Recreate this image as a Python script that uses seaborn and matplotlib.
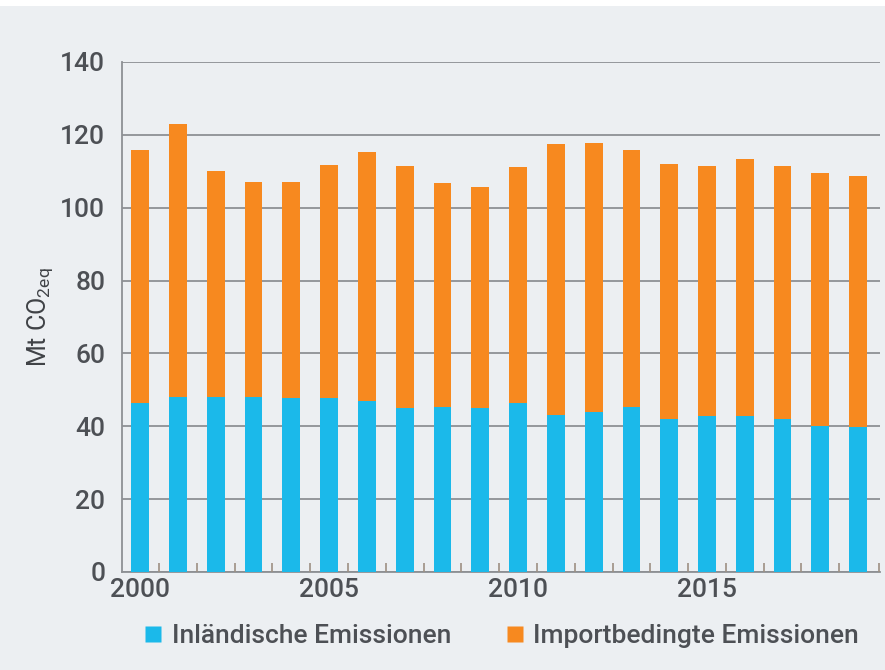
import matplotlib
matplotlib.use("Agg")
import matplotlib.pyplot as plt
from matplotlib.patches import Rectangle
from matplotlib.lines import Line2D
import seaborn as sns
import pandas as pd

# Emissions in Mt CO2-equivalent per year
years = list(range(2000, 2020))
domestic = [46.5, 48.0, 48.0, 48.0, 47.7, 47.7, 46.8, 44.9, 45.4, 45.1,
            46.3, 43.1, 44.0, 45.2, 41.9, 42.8, 42.8, 41.9, 40.0, 39.8]
imported = [69.3, 74.9, 62.1, 59.0, 59.3, 64.0, 68.6, 66.5, 61.3, 60.7,
            65.0, 74.3, 73.7, 70.5, 70.0, 68.6, 70.7, 69.6, 69.6, 68.9]
series_labels = ["Inländische Emissionen", "Importbedingte Emissionen"]
y_ticks = [0, 20, 40, 60, 80, 100, 120, 140]
x_ticks = [2000, 2005, 2010, 2015]

df = pd.DataFrame({"Jahr": years, "Inland": domestic, "Import": imported})
df["Gesamt"] = df["Inland"] + df["Import"]

BG = "#eceff2"
BLUE = "#1bb9ea"
ORANGE = "#f7891f"
GRID = "#8d9094"
TEXT = "#4d5055"

sns.set_theme(style="white")
plt.rcParams["font.family"] = ["Roboto", "DejaVu Sans"]
plt.rcParams["font.weight"] = "medium"

fig = plt.figure(figsize=(8.85, 6.7), dpi=100, facecolor=BG)
fig.patches.append(Rectangle((0, 0.991), 1, 0.009, transform=fig.transFigure,
                             facecolor="white", edgecolor="none", zorder=0))
ax = fig.add_axes([0.1379, 0.1463, 0.8565, 0.7612])
ax.set_facecolor(BG)

# stacked bars: total first, domestic share drawn over it
sns.barplot(data=df, x="Jahr", y="Gesamt", color=ORANGE, native_scale=True,
            width=0.47, saturation=1, linewidth=0, ax=ax, zorder=3)
sns.barplot(data=df, x="Jahr", y="Inland", color=BLUE, native_scale=True,
            width=0.47, saturation=1, linewidth=0, ax=ax, zorder=4)

ax.set_xlim(1999.52, 2019.58)
ax.set_ylim(0, 140)
ax.set_yticks(y_ticks)
ax.set_xticks(x_ticks)
ax.grid(axis="y", color=GRID, linewidth=1.3, zorder=1)
ax.grid(axis="x", visible=False)

# small separators between the yearly bars, standing on the baseline
separators = [y + 0.5 for y in years[:-1]] + [years[-1] + 0.55]
ax.vlines(separators, 0, 0.017, transform=ax.get_xaxis_transform(),
          colors="#9d9083", linewidth=1.2, zorder=5)

for side in ["top", "right"]:
    ax.spines[side].set_visible(False)
for side in ["left", "bottom"]:
    ax.spines[side].set_color(GRID)
    ax.spines[side].set_linewidth(1.3)
    ax.spines[side].set_zorder(2)

ax.tick_params(axis="y", left=False, length=0, pad=12, labelsize=19, labelcolor=TEXT)
ax.tick_params(axis="x", length=0, pad=4, labelsize=19, labelcolor=TEXT)

ax.set_xlabel("")
ax.set_ylabel(r"Mt CO$_{\mathregular{2eq}}$", fontsize=18, color="#3f4246",
              labelpad=4)

handles = [Line2D([], [], marker="s", linestyle="none", markersize=12,
                  markerfacecolor=c, markeredgecolor="none") for c in (BLUE, ORANGE)]
fig.legend(handles, series_labels, loc="center", bbox_to_anchor=(0.566, 0.051),
           ncol=2, frameon=False, fontsize=19, labelcolor=TEXT,
           handletextpad=0.3, columnspacing=2.0, handlelength=0.8)

fig.savefig("out.png", dpi=100, facecolor=BG)
